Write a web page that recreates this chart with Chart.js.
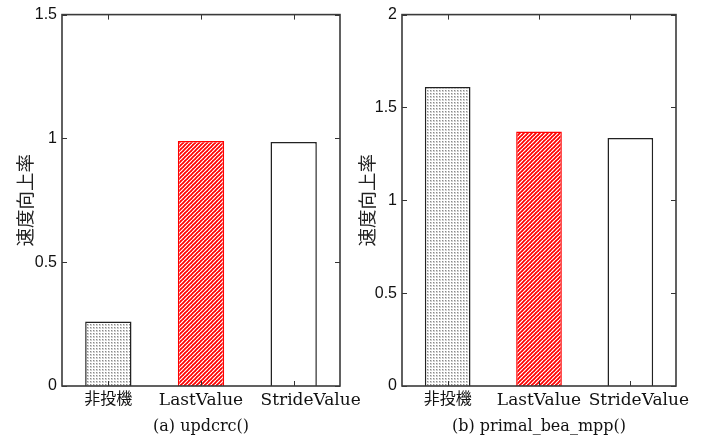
<!DOCTYPE html>
<html>
<head>
<meta charset="utf-8">
<script src="https://cdn.jsdelivr.net/npm/chart.js@4"></script>
<style>
  body { margin: 0; background: #fff; width: 710px; height: 437px; overflow: hidden; position: relative; }
  canvas { position: absolute; top: 0; }
</style>
</head>
<body>
<canvas id="chartA" width="372" height="437" style="left:0"></canvas>
<canvas id="chartB" width="355" height="437" style="left:355px"></canvas>
<script>
// data
const categories = ["非投機", "LastValue", "StrideValue"];
const updcrcValues = [0.26, 0.99, 0.985];
const primalValues = [1.61, 1.37, 1.335];
const updcrcTicks = [0, 0.5, 1, 1.5];
const primalTicks = [0, 0.5, 1, 1.5, 2];
const yTitle = "速度向上率";
const captionA = "(a) updcrc()";
const captionB = "(b) primal_bea_mpp()";

function dotPattern(ctx) {
    const c = document.createElement("canvas");
    c.width = 3; c.height = 3;
    const g = c.getContext("2d");
    g.fillStyle = "#fff";
    g.fillRect(0, 0, 3, 3);
    g.fillStyle = "#8a8a8a";
    g.fillRect(0, 0, 1, 1);
    g.fillStyle = "#cfcfcf";
    g.fillRect(1, 0, 1, 1);
    g.fillRect(0, 1, 1, 1);
    g.fillRect(1, 1, 1, 1);
    return ctx.createPattern(c, "repeat");
}

function hatchPattern(ctx) {
    const s = 4;
    const c = document.createElement("canvas");
    c.width = s; c.height = s;
    const g = c.getContext("2d");
    g.fillStyle = "#ff0000";
    g.fillRect(0, 0, s, s);
    g.strokeStyle = "#fff";
    g.lineWidth = 1.2;
    for (const o of [-s, 0, s]) {
        g.beginPath();
        g.moveTo(o, s);
        g.lineTo(o + s, 0);
        g.stroke();
    }
    return ctx.createPattern(c, "repeat");
}

// MATLAB style box with inward ticks
const boxPlugin = {
    id: "box",
    afterDatasetsDraw(chart) {
        const { ctx, chartArea: a, scales: { x, y } } = chart;
        ctx.save();
        ctx.strokeStyle = "#333";
        ctx.lineWidth = 1;
        y.ticks.forEach(t => {
            const py = Math.round(y.getPixelForValue(t.value)) + 0.5;
            ctx.beginPath();
            ctx.moveTo(a.left, py); ctx.lineTo(a.left + 5, py);
            ctx.moveTo(a.right, py); ctx.lineTo(a.right - 5, py);
            ctx.stroke();
        });
        categories.forEach((c, i) => {
            const px = Math.round(x.getPixelForValue(i)) + 0.5;
            ctx.beginPath();
            ctx.moveTo(px, a.bottom); ctx.lineTo(px, a.bottom - 5);
            ctx.moveTo(px, a.top); ctx.lineTo(px, a.top + 5);
            ctx.stroke();
        });
        ctx.lineWidth = 1.6;
        ctx.strokeStyle = "#3a3a3a";
        ctx.strokeRect(a.left, a.top, a.right - a.left, a.bottom - a.top);
        ctx.restore();
    }
};

function makeChart(id, values, ticks, caption, opt) {
    const ctx = document.getElementById(id).getContext("2d");
    return new Chart(ctx, {
        type: "bar",
        data: {
            labels: categories,
            datasets: [{
                data: values,
                backgroundColor: [dotPattern(ctx), hatchPattern(ctx), "#fff"],
                borderColor: ["#222", "#ff0000", "#222"],
                borderWidth: 1.5,
                barPercentage: 0.5,
                categoryPercentage: 1.0
            }]
        },
        options: {
            responsive: false,
            animation: false,
            layout: { padding: { left: 0, right: opt.rightPad, top: 13, bottom: 0 } },
            plugins: { legend: { display: false }, tooltip: { enabled: false } },
            scales: {
                x: {
                    grid: { display: false, drawTicks: false },
                    border: { display: false },
                    afterFit: s => { s.height = 51; },
                    ticks: {
                        color: "#111",
                        padding: 4,
                        autoSkip: false,
                        maxRotation: 0,
                        minRotation: 0,
                        // last label sits a little right of its bar, as in the original
                        callback: (v, i) => (i === 2 ? opt.lastShift : "") + categories[i],
                        font: c => ({
                            family: "'DejaVu Serif', 'Noto Sans CJK JP'",
                            size: c.index === 0 ? 16 : 17
                        })
                    },
                    title: {
                        display: true,
                        text: caption,
                        color: "#111",
                        padding: { top: 0, bottom: 1 },
                        font: { family: "'DejaVu Serif'", size: 16 }
                    }
                },
                y: {
                    min: 0,
                    max: ticks[ticks.length - 1],
                    afterBuildTicks: s => { s.ticks = ticks.map(v => ({ value: v })); },
                    afterFit: s => { s.width = opt.yWidth; },
                    grid: { display: false, drawTicks: false },
                    border: { display: false },
                    ticks: {
                        color: "#111",
                        padding: 5,
                        font: { family: "'Liberation Sans'", size: 16 },
                        callback: v => String(v)
                    },
                    title: {
                        display: true,
                        text: yTitle,
                        color: "#222",
                        padding: { top: opt.titlePad, bottom: 0 },
                        font: { family: "'Noto Sans CJK JP'", size: 18.5 }
                    }
                }
            }
        },
        plugins: [boxPlugin]
    });
}

makeChart("chartA", updcrcValues, updcrcTicks, captionA,
    { yWidth: 62, titlePad: 14, rightPad: 32, lastShift: "\u2003\u2003" });
makeChart("chartB", primalValues, primalTicks, captionB,
    { yWidth: 47, titlePad: 1, rightPad: 34, lastShift: "\u2002\u2002" });
</script>
</body>
</html>
